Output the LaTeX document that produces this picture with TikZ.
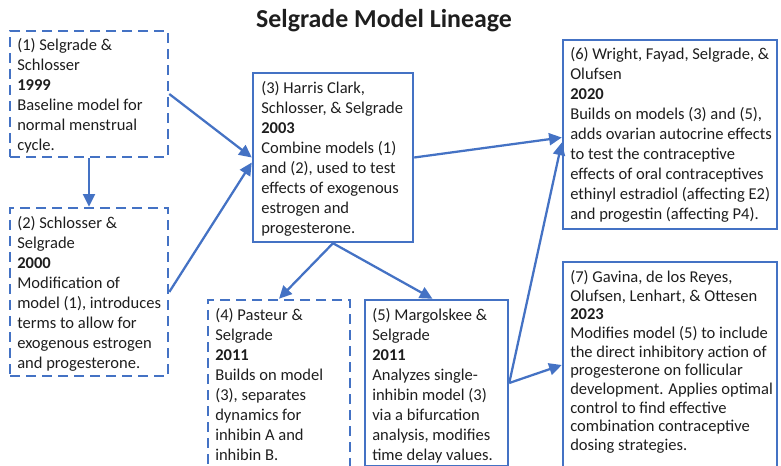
\documentclass[tikz,border=0pt]{standalone}
\usepackage{fontspec}
\setmainfont{Carlito}
\usetikzlibrary{arrows.meta,calc,fit}
\definecolor{bblue}{HTML}{4472C4}
\definecolor{txtc}{HTML}{1E1E1E}
\tikzset{
  sbox/.style={draw=bblue, line width=1.85pt, inner sep=0pt},
  dbox/.style={draw=bblue, line width=1.9pt, inner sep=0pt, dash pattern=on 7.5pt off 4.5pt},
  txt/.style={anchor=north west, inner sep=0pt, align=left, text=txtc, font=\fontsize{12.4}{15}\selectfont},
  txttight/.style={txt, font=\fontsize{12.4}{14}\selectfont},
  arr/.style={draw=bblue, line width=1.7pt, -{Triangle[length=9.5pt,width=9pt]}},
}
\begin{document}
\begin{tikzpicture}[x=0.75pt,y=-0.75pt]
\useasboundingbox (0,0) rectangle (781,466);
\clip (0,0) rectangle (781,466);
\node[anchor=base, text=txtc, font=\bfseries\fontsize{19.4}{22}\selectfont] (title) at (384,28) {Selgrade Model Lineage};
% boxes
\node[dbox, fit={(10,31) (168,157)}] (b1) {};
\node[dbox, fit={(10,208) (168,376)}] (b2) {};
\node[sbox, fit={(253,73) (413,242)}] (b3) {};
\node[dbox, fit={(208,300) (350,470)}] (b4) {};
\node[sbox, fit={(365,300) (508,466)}] (b5) {};
\node[sbox, fit={(563,40) (777,229)}] (b6) {};
\node[sbox, fit={(563,262) (777,468)}] (b7) {};
% texts
\node[txt] (t1) at (17,36.5) {\strut(1) Selgrade \&\\Schlosser\\\textbf{1999}\\Baseline model for\\normal menstrual\\cycle.};
\node[txt] (t2) at (17,214) {\strut(2) Schlosser \&\\Selgrade\\\textbf{2000}\\Modification of\\model (1), introduces\\terms to allow for\\exogenous estrogen\\and progesterone.};
\node[txt] (t3) at (261,79) {\strut(3) Harris Clark,\\Schlosser, \& Selgrade\\\textbf{2003}\\Combine models (1)\\and (2), used to test\\effects of exogenous\\estrogen and\\progesterone.};
\node[txt] (t4) at (215,306) {\strut(4) Pasteur \&\\Selgrade\\\textbf{2011}\\Builds on model\\(3), separates\\dynamics for\\inhibin A and\\inhibin B.};
\node[txt] (t5) at (372,306) {\strut(5) Margolskee \&\\Selgrade\\\textbf{2011}\\Analyzes single-\\inhibin model (3)\\via a bifurcation\\analysis, modifies\\time delay values.};
\node[txt] (t6) at (570,45.5) {\strut(6) Wright, Fayad, Selgrade, \&\\Olufsen\\\textbf{2020}\\Builds on models (3) and (5),\\adds ovarian autocrine effects\\to test the contraceptive\\effects of oral contraceptives\\ethinyl estradiol (affecting E2)\\and progestin (affecting P4).};
\node[txttight] (t7) at (570,269) {\strut(7) Gavina, de los Reyes,\\Olufsen, Lenhart, \& Ottesen\\\textbf{2023}\\Modifies model (5) to include\\the direct inhibitory action of\\progesterone on follicular\\development. Applies optimal\\control to find effective\\combination contraceptive\\dosing strategies.};
% arrows
\draw[arr] (b1.south) -- (b2.north);
\draw[arr] (b1.east) -- (b3.west);
\draw[arr] (b2.east) -- ($(b3.west)+(0,5)$);
\draw[arr] (b3.east) -- ($(b6.west)+(0,3)$);
\draw[arr] (b5.east) -- ($(b6.west)+(0,8)$);
\draw[arr] (b5.east) -- (b7.west);
\draw[arr] (b3.south) -- (b4.north);
\draw[arr] (b3.south) -- ($(b5.north)+(-4,0)$);
\end{tikzpicture}
\end{document}
